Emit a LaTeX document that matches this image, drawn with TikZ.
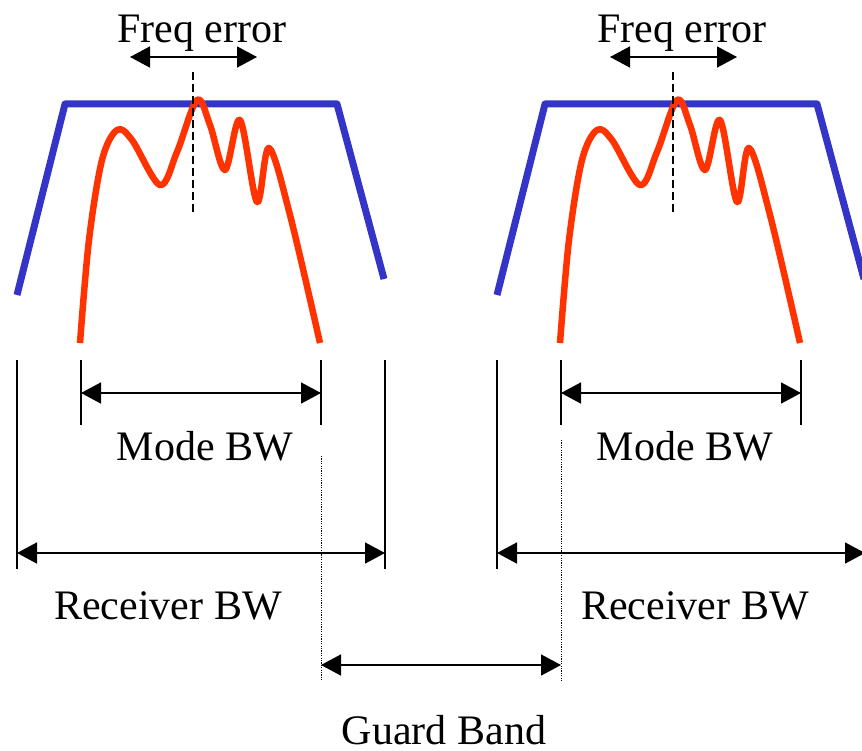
\documentclass[tikz,border=0pt]{standalone}
\usepackage{fontspec}
\setmainfont{Liberation Serif}
\usetikzlibrary{arrows.meta}
\definecolor{rxblue}{HTML}{3434C8}
\definecolor{modered}{HTML}{FF3300}
\tikzset{fig/.style={x=1pt,y=-1pt,line join=round,>={Triangle[length=20pt,width=21pt]}},
  lbl/.style={font=\fontsize{42}{50}\selectfont,inner sep=0pt,anchor=base},
  dim/.style={line width=1.6pt,<->},
  tick/.style={line width=1.6pt}}
\newcommand{\figRx}{\draw[rxblue,line width=7pt](17,295)--(65,104)--(337,104)--(384,279);}
\newcommand{\figMode}{\draw[modered,line width=6.5pt,smooth,tension=0.55]plot coordinates{(80,343)(89,240)(102,160)(117,130)(132,140)(160,185)(177,152)(197,100)(210,125)(225,170)(240,120)(257,202)(269,148)(290,215)(320,343)};}

\begin{document}
\begin{tikzpicture}[fig]
  \useasboundingbox(0,0)rectangle(862,751);\clip(0,0)rectangle(862,751);
  % the two channels
  \foreach \u/\dx/\rx in {a/0/168,b/480/215}{
    \begin{scope}[xshift=\dx pt]
      \figRx \figMode
      \coordinate(dT\u)at(193,72);\coordinate(dB\u)at(193,215);
      \draw[line width=1.4pt,dash pattern=on 8pt off 4pt](dT\u)--(dB\u);
      \coordinate(fL\u)at(130,57);\coordinate(fR\u)at(257,57);
      \draw[dim](fL\u)--(fR\u);\node[lbl](freq\u)at(202,43){Freq error};
      \coordinate(mL\u)at(81,393);\coordinate(mR\u)at(321,393);
      \draw[tick](81,360)--(81,425);\draw[tick](321,360)--(321,425);
      \draw[dim](mL\u)--(mR\u);\node[lbl](mode\u)at(205,460){Mode BW};
      \coordinate(rL\u)at(17,553);\coordinate(rR\u)at(385,553);
      \draw[tick](17,360)--(17,569);\draw[tick](385,360)--(385,569);
      \draw[dim](rL\u)--(rR\u);\node[lbl](recv\u)at(\rx,619){Receiver BW};
    \end{scope}}
  % guard band
  \coordinate(gLt)at(321,456);\coordinate(gLb)at(321,681);
  \coordinate(gRt)at(561,440);\coordinate(gRb)at(561,681);
  \draw[line width=1pt,dash pattern=on 1.2pt off 1.2pt](gLt)--(gLb);
  \draw[line width=1pt,dash pattern=on 1.2pt off 1.2pt](gRt)--(gRb);
  \coordinate(gL)at(321,665);\coordinate(gR)at(561,665);
  \draw[dim](gL)--(gR);\node[lbl,text depth=0pt](guard)at(444,744){Guard Band};
\end{tikzpicture}
\end{document}
